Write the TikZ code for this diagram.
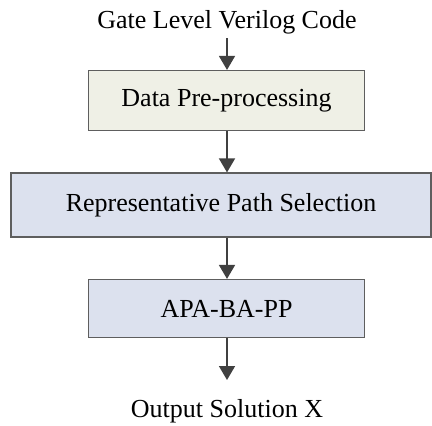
\documentclass[tikz,border=0pt]{standalone}
\usepackage{fontspec}
\setmainfont{Liberation Serif}
\usepackage{xcolor}
\usepackage{tikz}
\usetikzlibrary{arrows.meta,positioning}

\definecolor{prefill}{HTML}{EFF0E6}
\definecolor{stepfill}{HTML}{DCE1EE}
\definecolor{edgegray}{HTML}{5E5E5E}
\definecolor{arrowgray}{HTML}{404040}

\begin{document}
\begin{tikzpicture}[
   x=0.5pt, y=-0.5pt, font=\fontsize{13}{15}\selectfont,
   >={Triangle[length=7pt,width=8pt]},
   blk/.style={draw=edgegray,line width=0.6pt,minimum height=30pt,inner sep=0pt,align=center},
   flow/.style={->,draw=arrowgray,line width=0.8pt}]
  \useasboundingbox (0,0) rectangle (432,425);
  \node[anchor=base] (inp) at (227,28) {Gate Level Verilog Code};
  \node[blk,fill=prefill,minimum width=138pt] (pre) at (226.5,100.5) {Data Pre-processing};
  \node[blk,fill=stepfill,minimum width=210pt,minimum height=32pt] (rps) at (221,205) {Representative Path Selection};
  \node[blk,fill=stepfill,minimum width=138pt,minimum height=29pt] (apa) at (226.5,308.5) {APA-BA-PP};
  \node[anchor=base] (out) at (227,417) {Output Solution X};
  \coordinate (inpend) at (227,38);
  \coordinate (outend) at (227,380);
  \draw[flow] (inpend) -- (pre.north-|inpend);
  \draw[flow] (pre.south-|inpend) -- (rps.north-|inpend);
  \draw[flow] (rps.south-|inpend) -- (apa.north-|inpend);
  \draw[flow] (apa.south-|inpend) -- (outend);
\end{tikzpicture}
\end{document}
